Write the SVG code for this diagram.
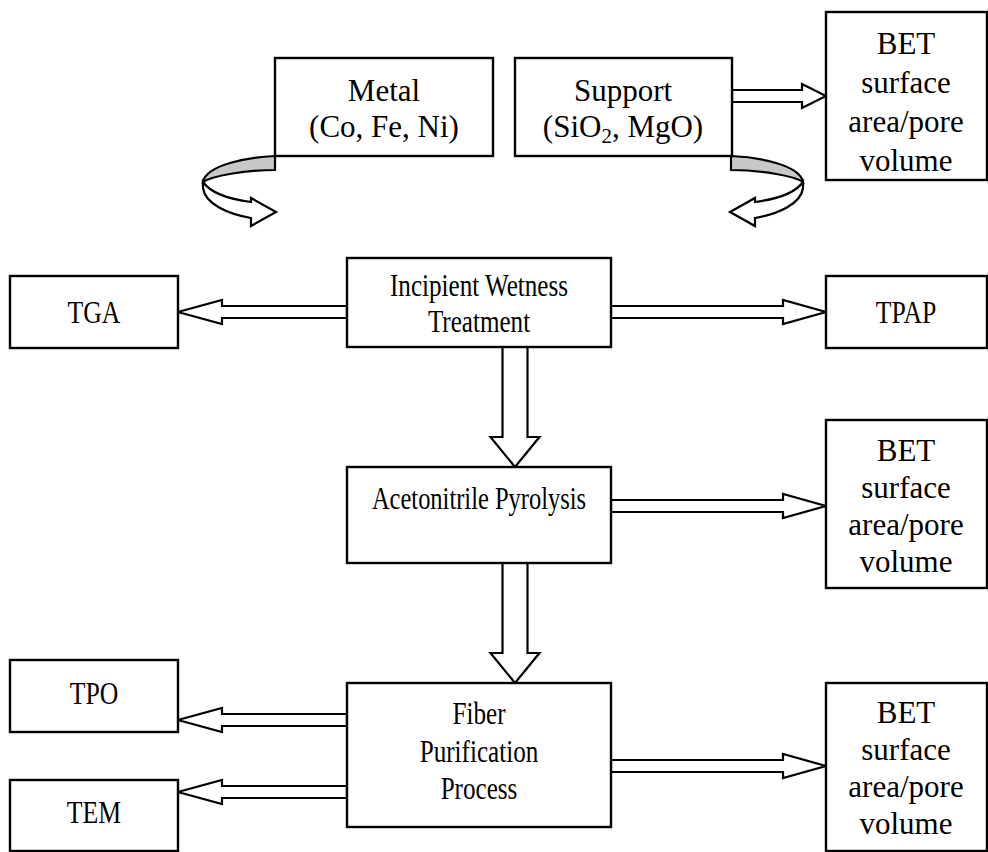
<svg xmlns="http://www.w3.org/2000/svg" width="988" height="852" viewBox="0 0 988 852">
<style>
.box{fill:#fff;stroke:#000;stroke-width:2.4}
.arr{fill:#fff;stroke:#000;stroke-width:2.2;stroke-linejoin:miter}
.band{fill:#c8c8c8;stroke:#000;stroke-width:2.2}
text{font-family:"Liberation Serif","Times New Roman",serif;font-size:31px;fill:#000;text-anchor:middle}
</style>
<rect width="988" height="852" fill="#fff"/>
<g id="connectors">
<polygon class="arr" points="732,90 802,90 802,84 826,96 802,108 802,102 732,102"/>
<polygon class="arr" points="347,306 222,306 222,300 178,312 222,324 222,318 347,318"/>
<polygon class="arr" points="611,306 783,306 783,300 826,312 783,324 783,318 611,318"/>
<polygon class="arr" points="502.5,347 502.5,437 490.5,437 515,467 539.5,437 527.5,437 527.5,347"/>
<polygon class="arr" points="611,500 783,500 783,494 826,506 783,518 783,512 611,512"/>
<polygon class="arr" points="502.5,563 502.5,653 490.5,653 515,683 539.5,653 527.5,653 527.5,563"/>
<polygon class="arr" points="347,714 222,714 222,708 178,720 222,732 222,726 347,726"/>
<polygon class="arr" points="347,786 222,786 222,780 178,792 222,804 222,798 347,798"/>
<polygon class="arr" points="611,760 783,760 783,754 826,766 783,778 783,772 611,772"/>
<g id="curve-left">
<path class="band" d="M275,156 C248,157 206,165 203,182 C212,176 245,170 275,170 Z"/>
<path class="arr" d="M203,182 L203,188 C205,204 228,214 251,218 L251,226 L276,212 L251,198 L251,202 C228,199 210,192 203,182 Z"/>
</g>
<g id="curve-right" transform="translate(1006,0) scale(-1,1)">
<path class="band" d="M275,156 C248,157 206,165 203,182 C212,176 245,170 275,170 Z"/>
<path class="arr" d="M203,182 L203,188 C205,204 228,214 251,218 L251,226 L276,212 L251,198 L251,202 C228,199 210,192 203,182 Z"/>
</g>
</g>
<g id="metal"><rect class="box" x="275" y="58" width="218" height="98"/><text x="384" y="101">Metal</text><text x="384" y="137">(Co, Fe, Ni)</text></g>
<g id="support"><rect class="box" x="515" y="58" width="217" height="98"/><text x="623" y="101">Support</text><text x="623" y="137">(SiO<tspan font-size="21" dy="6">2</tspan><tspan dy="-6">, MgO)</tspan></text></g>
<g id="bet1"><rect class="box" x="826" y="12" width="161" height="168"/><text x="906" y="54">BET</text><text x="906" y="93">surface</text><text x="906" y="132">area/pore</text><text x="906" y="171">volume</text></g>
<g id="tga"><rect class="box" x="10" y="276" width="168" height="72"/><text transform="translate(94,323) scale(0.83,1)">TGA</text></g>
<g id="incipient"><rect class="box" x="347" y="258" width="264" height="89"/><text transform="translate(479,296) scale(0.81,1)">Incipient Wetness</text><text transform="translate(479,332) scale(0.81,1)">Treatment</text></g>
<g id="tpap"><rect class="box" x="826" y="276" width="161" height="72"/><text transform="translate(906,323) scale(0.83,1)">TPAP</text></g>
<g id="acetonitrile"><rect class="box" x="347" y="467" width="264" height="96"/><text transform="translate(479,509) scale(0.79,1)">Acetonitrile Pyrolysis</text></g>
<g id="bet2"><rect class="box" x="826" y="420" width="161" height="168"/><text x="906" y="461">BET</text><text x="906" y="498">surface</text><text x="906" y="535">area/pore</text><text x="906" y="572">volume</text></g>
<g id="tpo"><rect class="box" x="10" y="660" width="168" height="72"/><text transform="translate(94,704) scale(0.83,1)">TPO</text></g>
<g id="fiber"><rect class="box" x="347" y="683" width="264" height="144"/><text transform="translate(479,724) scale(0.81,1)">Fiber</text><text transform="translate(479,762) scale(0.81,1)">Purification</text><text transform="translate(479,799) scale(0.81,1)">Process</text></g>
<g id="tem"><rect class="box" x="10" y="780" width="168" height="71"/><text transform="translate(94,823) scale(0.83,1)">TEM</text></g>
<g id="bet3"><rect class="box" x="826" y="683" width="161" height="168"/><text x="906" y="723">BET</text><text x="906" y="760">surface</text><text x="906" y="797">area/pore</text><text x="906" y="834">volume</text></g>
</svg>
